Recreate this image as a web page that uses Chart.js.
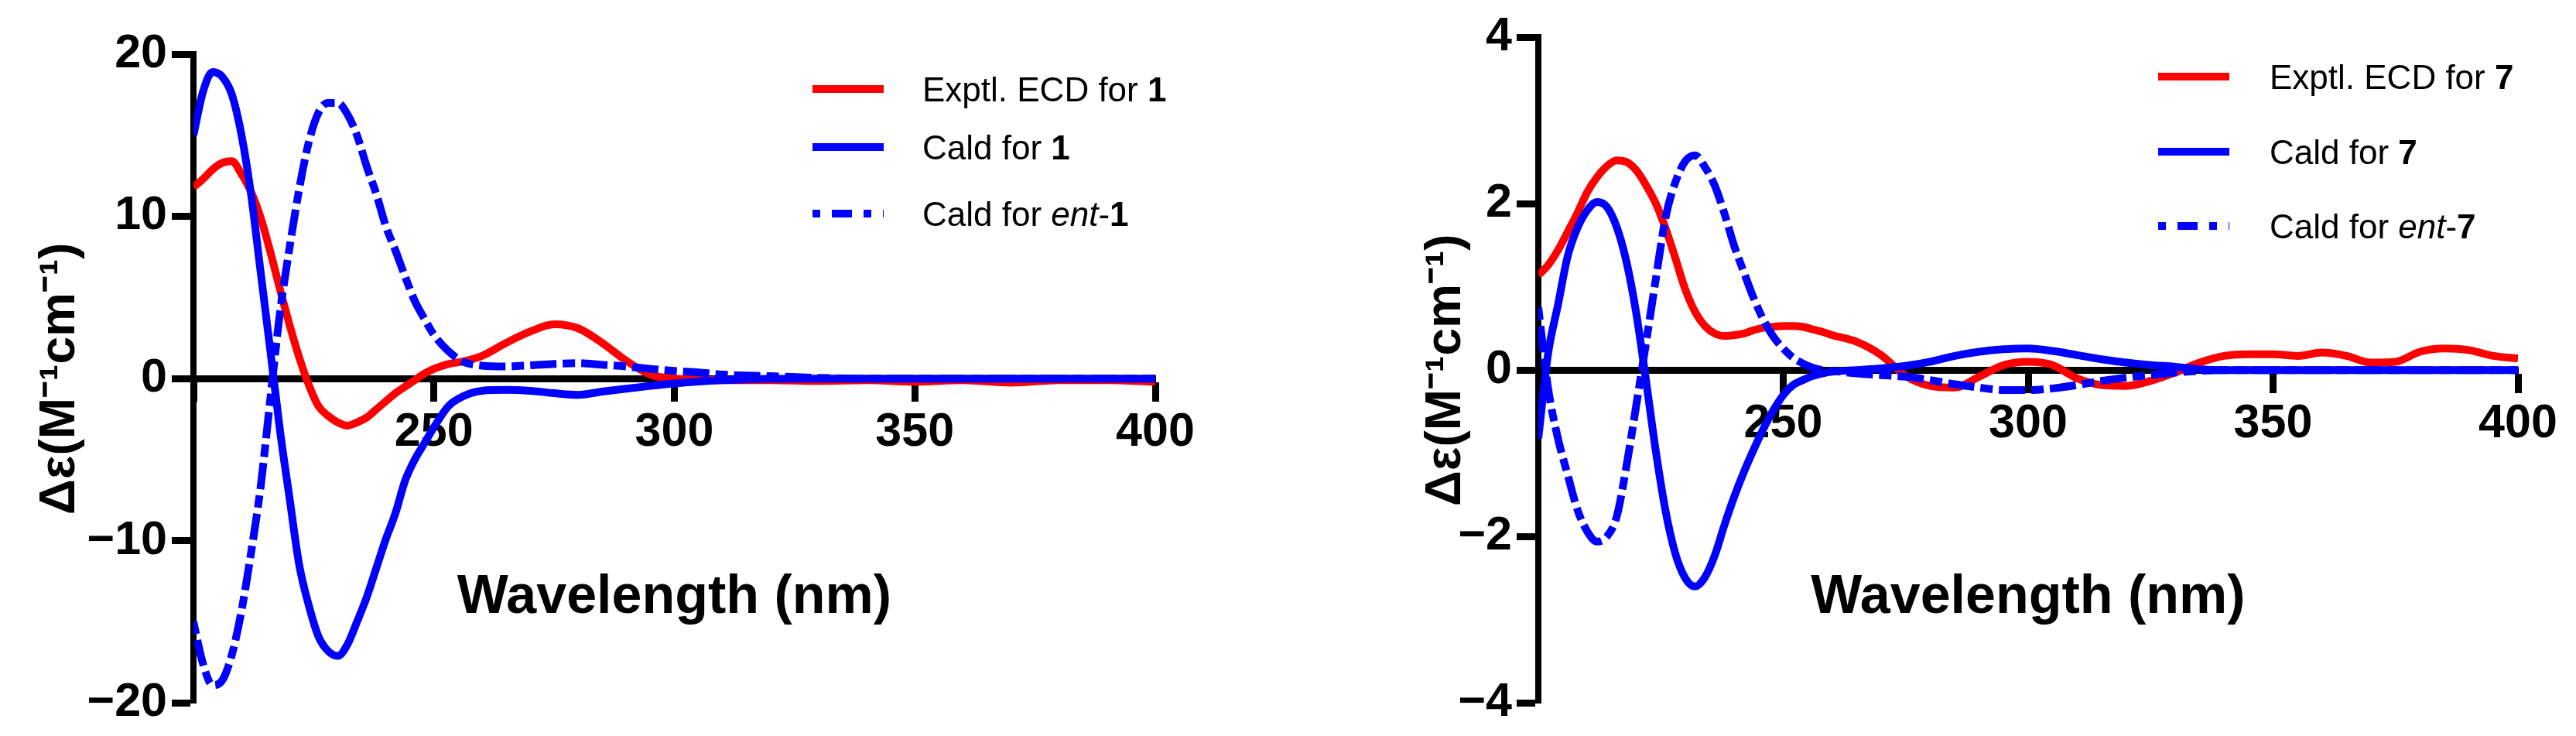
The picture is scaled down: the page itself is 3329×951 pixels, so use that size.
<!DOCTYPE html>
<html>
<head>
<meta charset="utf-8">
<title>ECD spectra</title>
<script src="https://cdn.jsdelivr.net/npm/chart.js@4.4.0/dist/chart.umd.min.js"></script>
<style>
  html, body { margin: 0; padding: 0; background: #fff; }
  #wrap { position: relative; width: 3329px; height: 951px; overflow: hidden; }
  .panel { position: absolute; top: 0; height: 951px; }
</style>
</head>
<body>
<div id="wrap">
  <div class="panel" style="left:0;width:1650px"><canvas id="chartA" width="1650" height="951"></canvas></div>
  <div class="panel" style="left:1650px;width:1679px"><canvas id="chartB" width="1679" height="951"></canvas></div>
</div>
<script>
// wavelengths (nm) for compound 1 panel
var wlA = [200, 202, 204, 206, 208, 210, 212, 214, 216, 218, 220, 222, 224, 226, 228, 230, 232, 234, 236, 238,
           240, 242, 244, 246, 248, 250, 253, 256, 260, 265, 270, 275, 280, 285, 290, 295, 300, 305, 310,
           320, 330, 340, 350, 360, 370, 380, 390, 400];
var exptA = [11.8, 12.3, 12.9, 13.3, 13.4, 12.6, 11.5, 9.9, 7.8, 5.5, 3.3, 1.3, -0.4, -1.7, -2.3, -2.7, -2.9, -2.7, -2.4, -1.9,
             -1.4, -0.9, -0.5, -0.1, 0.3, 0.6, 0.9, 1.05, 1.4, 2.2, 2.9, 3.35, 3.1, 2.2, 1.1, 0.25, 0.0, -0.05, -0.1,
             -0.1, -0.15, -0.1, -0.2, -0.1, -0.25, -0.1, -0.1, -0.2];
var caldA = [15.0, 17.7, 18.9, 18.6, 17.5, 15.0, 11.3, 6.5, 1.7, -3.2, -7.4, -11.5, -14.0, -15.9, -16.8, -17.1, -16.4, -15.0, -13.5, -11.7,
             -9.9, -8.3, -6.3, -5.0, -4.0, -3.0, -1.7, -1.1, -0.75, -0.7, -0.75, -0.9, -1.0, -0.8, -0.62, -0.45, -0.3, -0.18, -0.1,
             -0.02, 0, 0, 0, 0, 0, 0, 0, 0];
var entA = [-15.0, -17.6, -18.9, -18.6, -17.0, -14.3, -10.7, -6.6, -1.2, 4.1, 8.1, 11.7, 14.6, 16.4, 17.0, 17.0, 16.3, 15.0, 13.1, 11.4,
            9.4, 7.9, 6.3, 4.8, 3.7, 2.7, 1.7, 1.05, 0.8, 0.75, 0.82, 0.9, 0.95, 0.85, 0.75, 0.6, 0.47, 0.38, 0.25,
            0.15, 0.05, 0, 0, 0, 0, 0, 0, 0];

// wavelengths (nm) for compound 7 panel
var wlB = [200, 202, 204, 206, 208, 210, 212, 214, 216, 218, 220, 222, 224, 226, 228, 230, 232, 234, 236, 238,
           240, 242, 244, 246, 248, 250, 252, 254, 256, 258, 260, 265, 270, 275, 280, 285, 290, 295, 300, 305,
           310, 315, 320, 325, 330, 335, 340, 345, 350, 355, 360, 365, 370, 375, 380, 385, 390, 395, 400];
var exptB = [1.14, 1.26, 1.44, 1.66, 1.89, 2.14, 2.32, 2.45, 2.52, 2.5, 2.4, 2.22, 2.0, 1.7, 1.34, 0.97, 0.7, 0.53, 0.44, 0.41,
             0.42, 0.44, 0.48, 0.51, 0.52, 0.53, 0.53, 0.52, 0.49, 0.46, 0.42, 0.34, 0.18, -0.07, -0.19, -0.21, -0.08, 0.06, 0.1, 0.06,
             -0.1, -0.18, -0.19, -0.13, -0.03, 0.09, 0.17, 0.19, 0.19, 0.17, 0.21, 0.17, 0.09, 0.1, 0.22, 0.26, 0.24, 0.17, 0.14];
var caldB = [-0.82, 0.2, 0.78, 1.37, 1.71, 1.92, 2.02, 1.96, 1.72, 1.3, 0.68, -0.13, -0.98, -1.7, -2.21, -2.5, -2.6, -2.49, -2.23, -1.86,
             -1.52, -1.22, -0.95, -0.7, -0.48, -0.3, -0.18, -0.12, -0.07, -0.04, -0.02, 0, 0.02, 0.05, 0.1, 0.17, 0.22, 0.25, 0.26, 0.23,
             0.18, 0.13, 0.09, 0.06, 0.04, 0.01, 0, 0, 0, 0, 0, 0, 0, 0, 0, 0, 0, 0, 0];
var entB = [0.75, -0.22, -0.82, -1.26, -1.68, -1.94, -2.06, -2.0, -1.76, -1.15, -0.42, 0.33, 1.1, 1.84, 2.26, 2.51, 2.58, 2.44, 2.22, 1.88,
            1.49, 1.17, 0.86, 0.6, 0.4, 0.26, 0.15, 0.08, 0.03, 0, -0.01, -0.04, -0.06, -0.08, -0.12, -0.17, -0.21, -0.24, -0.24, -0.22,
            -0.18, -0.13, -0.09, -0.06, -0.03, -0.01, 0, 0, 0, 0, 0, 0, 0, 0, 0, 0, 0, 0, 0];

// legend labels: [text, font style]
var labelsA = [
  [['Exptl. ECD for ', ''], ['1', 'bold']],
  [['Cald for ', ''], ['1', 'bold']],
  [['Cald for ', ''], ['ent', 'italic'], ['-', ''], ['1', 'bold']]
];
var labelsB = [
  [['Exptl. ECD for ', ''], ['7', 'bold']],
  [['Cald for ', ''], ['7', 'bold']],
  [['Cald for ', ''], ['ent', 'italic'], ['-', ''], ['7', 'bold']]
];
var xAxisTitle = 'Wavelength (nm)';
var yAxisTitle = 'Δε(M⁻¹cm⁻¹)';

var FONT = '"Liberation Sans", Arial, Helvetica, sans-serif';
Chart.defaults.font.family = FONT;
Chart.defaults.color = '#000';

var ecdLegend = {
  id: 'ecdLegend',
  afterDraw: function(chart, args, opts) {
    var ctx = chart.ctx;
    ctx.save();
    chart.data.datasets.forEach(function(ds, i) {
      var y = opts.rows[i];
      ctx.beginPath();
      ctx.lineWidth = 10;
      ctx.lineCap = 'butt';
      ctx.strokeStyle = ds.borderColor;
      ctx.setLineDash(ds.legendDash);
      ctx.moveTo(opts.x, y);
      ctx.lineTo(opts.x + 92, y);
      ctx.stroke();
      ctx.setLineDash([]);
      var tx = opts.x + opts.textGap;
      ctx.fillStyle = '#000';
      ctx.textBaseline = 'alphabetic';
      ctx.textAlign = 'left';
      ds.legendText.forEach(function(part) {
        ctx.font = part[1] + ' 44px ' + FONT;
        ctx.fillText(part[0], tx, y + 16);
        tx += ctx.measureText(part[0]).width;
      });
    });
    ctx.restore();
  }
};

var xTitle = {
  id: 'xTitle',
  afterDraw: function(chart, args, opts) {
    var ctx = chart.ctx;
    var area = chart.chartArea;
    ctx.save();
    ctx.font = 'bold 70px ' + FONT;
    ctx.fillStyle = '#000';
    ctx.textAlign = 'center';
    ctx.textBaseline = 'alphabetic';
    ctx.fillText(opts.text, (area.left + area.right) / 2, opts.baseline);
    ctx.restore();
  }
};

function points(wl, values) {
  return wl.map(function(w, i) { return {x: w, y: values[i]}; });
}

function makeChart(id, wl, series, labels, cfg) {
  var colors = ['#ff0000', '#0000ff', '#0000ff'];
  var dashes = [[], [], [16, 8, 34, 8]];
  var legendDashes = [[], [], [10, 15, 26, 15]];
  var orders = [3, 1, 2];

  var datasets = series.map(function(values, i) {
    return {
      data: points(wl, values),
      borderColor: colors[i],
      borderWidth: 10,
      borderDash: dashes[i],
      borderJoinStyle: 'round',
      pointRadius: 0,
      cubicInterpolationMode: 'monotone',
      fill: false,
      order: orders[i],
      legendText: labels[i],
      legendDash: legendDashes[i]
    };
  });

  return new Chart(document.getElementById(id), {
    type: 'line',
    data: { datasets: datasets },
    options: {
      responsive: false,
      animation: false,
      events: [],
      layout: { padding: { top: cfg.top, right: cfg.right, bottom: 0, left: 0 } },
      scales: {
        x: {
          type: 'linear',
          min: 200,
          max: 400,
          position: { y: 0 },
          afterFit: function(s) { s.height = cfg.bottom; },
          border: { display: true, color: '#000', width: 9 },
          grid: { drawOnChartArea: false, drawTicks: true, tickLength: 25, tickWidth: 9, color: '#000' },
          ticks: {
            stepSize: 50,
            padding: 8,
            maxRotation: 0,
            autoSkip: false,
            color: '#000',
            font: { size: 61, weight: 'bold' },
            callback: function(v) { return v === 200 ? '' : String(v); }
          }
        },
        y: {
          min: cfg.min,
          max: cfg.max,
          afterFit: function(s) { s.width = cfg.left; },
          border: { display: true, color: '#000', width: 8 },
          grid: { drawOnChartArea: false, drawTicks: true, tickLength: 28, tickWidth: 9, color: '#000' },
          ticks: {
            stepSize: cfg.step,
            padding: 6,
            color: '#000',
            font: { size: 61, weight: 'bold' },
            callback: function(v) { return v < 0 ? '\u2212' + (-v) : String(v); }
          },
          title: {
            display: true,
            text: yAxisTitle,
            color: '#000',
            font: { size: 64, weight: 'bold' },
            padding: { top: cfg.titlePad, bottom: 0 }
          }
        }
      },
      plugins: {
        legend: { display: false },
        tooltip: { enabled: false },
        ecdLegend: cfg.legend,
        xTitle: { text: xAxisTitle, baseline: 792 }
      }
    },
    plugins: [ecdLegend, xTitle]
  });
}

makeChart('chartA', wlA, [exptA, caldA, entA], labelsA, {
  top: 70, right: 157, bottom: 55, left: 250,
  min: -20, max: 20, step: 10, titlePad: 40,
  legend: { x: 1050, rows: [115, 190, 276], textGap: 142 }
});

makeChart('chartB', wlB, [exptB, caldB, entB], labelsB, {
  top: 48, right: 75, bottom: 54, left: 338,
  min: -4, max: 4, step: 2, titlePad: 181,
  legend: { x: 1139, rows: [99, 196, 292], textGap: 144 }
});
</script>
</body>
</html>
